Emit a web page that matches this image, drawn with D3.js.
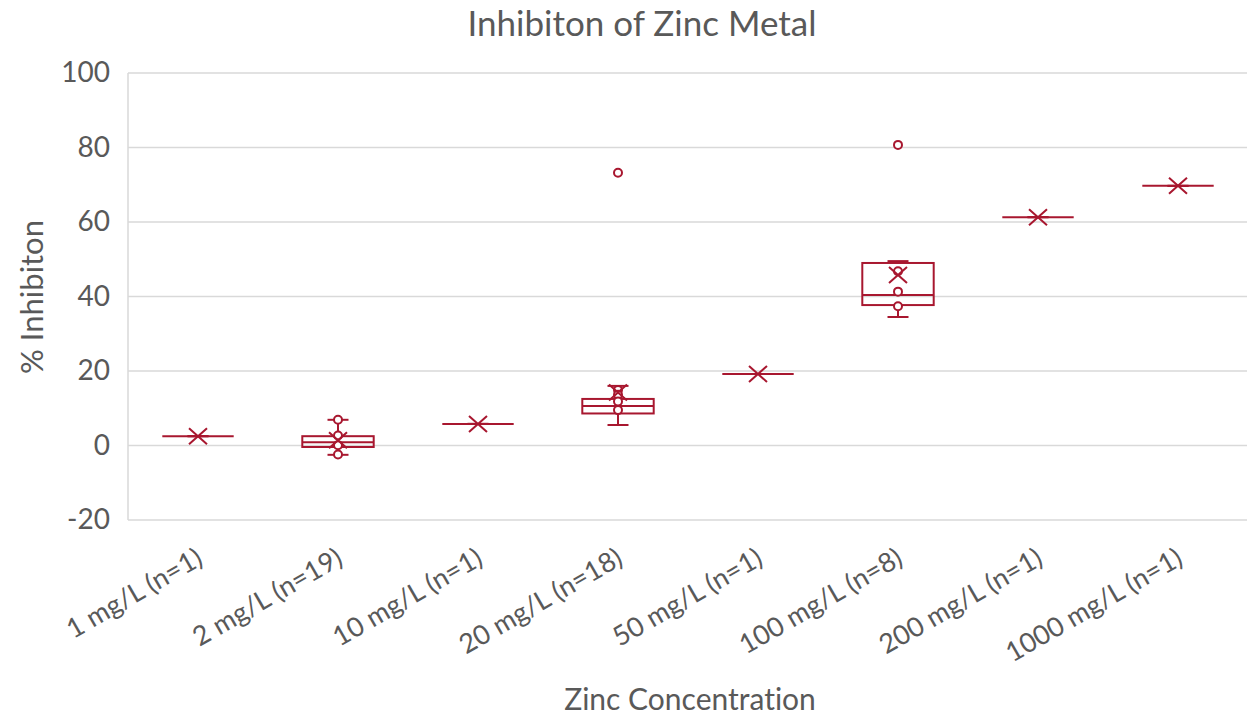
<!DOCTYPE html>
<html>
<head>
<meta charset="utf-8">
<script src="https://cdn.jsdelivr.net/npm/d3@7"></script>
<style>
  body { margin: 0; background: #fff; }
  text { font-family: Lato, "Open Sans", sans-serif; fill: #595959; font-variant-ligatures: none; }
</style>
</head>
<body>
<svg id="chart" width="1247" height="718"></svg>
<script>
// categories and box statistics
var categories = ["1 mg/L (n=1)", "2 mg/L (n=19)", "10 mg/L (n=1)", "20 mg/L (n=18)",
                  "50 mg/L (n=1)", "100 mg/L (n=8)", "200 mg/L (n=1)", "1000 mg/L (n=1)"];
var whiskerLow  = [2.5, -2.5, 5.8, 5.5, 19.2, 34.5, 61.3, 69.7];
var q1          = [2.5, -0.4, 5.8, 8.6, 19.2, 37.7, 61.3, 69.7];
var median      = [2.5, 0.9, 5.8, 10.6, 19.2, 40.4, 61.3, 69.7];
var q3          = [2.5, 2.5, 5.8, 12.5, 19.2, 49.0, 61.3, 69.7];
var whiskerHigh = [2.5, 6.9, 5.8, 16.0, 19.2, 49.5, 61.3, 69.7];
var means       = [2.5, 1.4, 5.8, 14.2, 19.2, 45.8, 61.3, 69.7];
var points      = [[], [6.9, 2.7, 0.1, -2.4], [], [14.9, 13.6, 11.8, 9.5, 73.2], [],
                   [46.8, 41.3, 37.4, 80.7], [], []];
var yTicks = [-20, 0, 20, 40, 60, 80, 100];

var col = "#a8172f";
var svg = d3.select("#chart");

var x = d3.scaleBand().domain(categories).range([128, 1248]);
var y = d3.scaleLinear().domain([-20, 100]).range([520, 73]);
var bw = x.bandwidth() * 0.51;

// gridlines
svg.append("g").selectAll("line").data(yTicks).enter().append("line")
  .attr("x1", 128).attr("x2", 1247)
  .attr("y1", function(d){ return y(d); }).attr("y2", function(d){ return y(d); })
  .attr("stroke", "#d9d9d9").attr("stroke-width", 1.5);
svg.append("line").attr("x1", 128).attr("x2", 128).attr("y1", y(100)).attr("y2", y(-20))
  .attr("stroke", "#d9d9d9").attr("stroke-width", 1.5);

// y axis
var yAxis = svg.append("g").attr("transform", "translate(110,0)")
  .call(d3.axisLeft(y).tickValues(yTicks).tickSize(0).tickPadding(0)
    .tickFormat(function(d){ return String(d); }));
yAxis.select(".domain").remove();
yAxis.selectAll("text").style("font-size", "28px").attr("fill", "#595959")
  .style("font-family", "Lato, sans-serif");

// x labels, rotated
svg.append("g").selectAll("text").data(categories).enter().append("text")
  .attr("transform", function(d){ return "translate(" + (x(d) + x.bandwidth()/2 - 3) + ",547) rotate(-30)"; })
  .attr("text-anchor", "end").attr("dy", "0.7em")
  .style("font-size", "27px")
  .text(function(d){ return d; });

// boxes
var g = svg.append("g").attr("stroke", col).attr("fill", "none").attr("stroke-width", 2);
categories.forEach(function(c, i) {
  var cx = x(c) + x.bandwidth()/2;
  // whiskers
  g.append("line").attr("x1", cx).attr("x2", cx).attr("y1", y(whiskerHigh[i])).attr("y2", y(q3[i]));
  g.append("line").attr("x1", cx).attr("x2", cx).attr("y1", y(q1[i])).attr("y2", y(whiskerLow[i]));
  [whiskerHigh[i], whiskerLow[i]].forEach(function(v) {
    g.append("line").attr("x1", cx - 10.5).attr("x2", cx + 10.5).attr("y1", y(v)).attr("y2", y(v));
  });
  // box + median
  g.append("rect").attr("x", cx - bw/2).attr("width", bw)
    .attr("y", y(q3[i])).attr("height", y(q1[i]) - y(q3[i]));
  g.append("line").attr("x1", cx - bw/2).attr("x2", cx + bw/2)
    .attr("y1", y(median[i])).attr("y2", y(median[i]));
  // points
  points[i].forEach(function(v) {
    g.append("circle").attr("cx", cx).attr("cy", y(v)).attr("r", 4).attr("fill", "#fff");
  });
  // mean marker
  var my = y(means[i]);
  g.append("path").attr("d", "M" + (cx-9) + "," + (my-8) + "L" + (cx+9) + "," + (my+8) +
    "M" + (cx-9) + "," + (my+8) + "L" + (cx+9) + "," + (my-8));
});

// titles
svg.append("text").attr("x", 642).attr("y", 36).attr("text-anchor", "middle")
  .style("font-size", "35px").text("Inhibiton of Zinc Metal");
svg.append("text").attr("x", 690).attr("y", 710).attr("text-anchor", "middle")
  .style("font-size", "30px").text("Zinc Concentration");
svg.append("text").attr("transform", "translate(43,297) rotate(-90)").attr("text-anchor", "middle")
  .style("font-size", "31px").text("% Inhibiton");
</script>
</body>
</html>
